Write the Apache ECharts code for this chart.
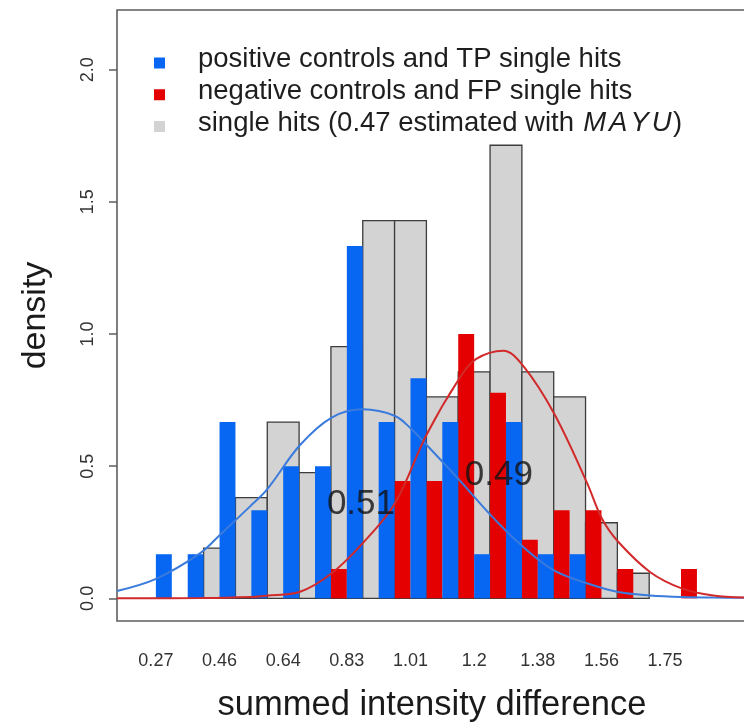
<!DOCTYPE html>
<html>
<head>
<meta charset="utf-8">
<script src="https://cdn.jsdelivr.net/npm/echarts@6/dist/echarts.min.js"></script>
<style>
  html, body { margin: 0; padding: 0; background: #ffffff; }
  #chart { width: 744px; height: 722px; }
</style>
</head>
<body>
<div id="chart"></div>
<script>
// Histogram bins (centre of each bin, summed intensity difference)
const binCenters = [0.27, 0.3625, 0.455, 0.5475, 0.64, 0.7325, 0.825, 0.9175, 1.01,
                    1.1025, 1.195, 1.2875, 1.38, 1.4725, 1.565, 1.6575, 1.75, 1.8425];
const binWidth = 0.0925;

// Densities per bin
const singleHits   = [0, 0, 0.190, 0.381, 0.667, 0.476, 0.952, 1.429, 1.429,
                      0.762, 0.857, 1.714, 0.857, 0.762, 0.286, 0.095, 0, 0];
const positiveHits = [0.167, 0.167, 0.667, 0.333, 0.500, 0.500, 1.333, 0.667, 0.833,
                      0.667, 0.167, 0.667, 0.167, 0.167, 0, 0, 0, 0];
const negativeHits = [0, 0, 0, 0, 0, 0, 0.111, 0, 0.444,
                      0.444, 1.000, 0.778, 0.222, 0.333, 0.333, 0.111, 0, 0.111];

// Fitted component densities
const positiveCurveX = [0.157, 0.272, 0.398, 0.456, 0.543, 0.592, 0.689, 0.781, 0.872, 0.965, 1.013,
                        1.057, 1.151, 1.243, 1.337, 1.427, 1.523, 1.613, 1.706, 1.800, 1.890, 1.988];
const positiveCurveY = [0.028, 0.075, 0.170, 0.240, 0.347, 0.410, 0.580, 0.684, 0.715, 0.690, 0.640,
                        0.580, 0.449, 0.315, 0.195, 0.106, 0.057, 0.024, 0.011, 0.005, 0.003, 0.002];
const negativeCurveX = [0.157, 0.400, 0.543, 0.592, 0.689, 0.781, 0.872, 0.965, 1.057, 1.151, 1.200,
                        1.280, 1.337, 1.427, 1.523, 1.567, 1.613, 1.706, 1.798, 1.890, 1.988];
const negativeCurveY = [0.000, 0.001, 0.005, 0.010, 0.025, 0.095, 0.210, 0.360, 0.620, 0.830, 0.905,
                        0.937, 0.880, 0.700, 0.437, 0.300, 0.215, 0.100, 0.038, 0.011, 0.003];

// Axis ticks
const xTickValues = [0.27, 0.455, 0.64, 0.825, 1.01, 1.195, 1.38, 1.565, 1.75];
const xTickLabels = ['0.27', '0.46', '0.64', '0.83', '1.01', '1.2', '1.38', '1.56', '1.75'];
const yTickValues = [0, 0.5, 1, 1.5, 2];
const yTickLabels = ['0.0', '0.5', '1.0', '1.5', '2.0'];

// Component proportions
const proportionLabels = ['0.51', '0.49'];
const proportionX = [0.866, 1.267];
const proportionY = [0.357, 0.467];

// Legend entries
const legendLabels = [
  'positive controls and TP single hits',
  'negative controls and FP single hits',
  'single hits (0.47 estimated with MAYU)'
];

const FONT = '"Liberation Sans", Arial, Helvetica, sans-serif';
const BLUE = '#0766f2';
const RED = '#e40000';
const GREY = '#d3d3d3';

function lookup(values, labels, v) {
  const i = values.findIndex(t => Math.abs(t - v) < 1e-6);
  return i >= 0 ? labels[i] : '';
}

// [left edge, right edge, height] rectangles for each bar
function barData(values, side) {
  const half = binWidth / 2;
  const out = [];
  values.forEach((v, i) => {
    if (v <= 0) return;
    const c = binCenters[i];
    if (side === 'full') out.push([c - half, c + half, v]);
    else if (side === 'left') out.push([c - half, c, v]);
    else out.push([c, c + half, v]);
  });
  return out;
}

function rectRenderer(fill, stroke, lineWidth) {
  return function (params, api) {
    const p0 = api.coord([api.value(0), api.value(2)]);
    const p1 = api.coord([api.value(1), 0]);
    return {
      type: 'rect',
      shape: { x: p0[0], y: p0[1], width: p1[0] - p0[0], height: p1[1] - p0[1] },
      style: { fill: fill, stroke: stroke || null, lineWidth: lineWidth || 0 }
    };
  };
}

// Legend: italic, letter-spaced program name inside the third entry
function legendRich(label) {
  const parts = label.split('MAYU');
  if (parts.length < 2) return '{n|' + label + '}';
  const spaced = 'MAYU'.split('').map(ch => '{i|' + ch + '}').join('');
  return '{n|' + parts[0] + '}' + spaced + '{n|' + parts[1] + '}';
}

const legendColors = [BLUE, RED, GREY];
const legendGraphics = [];
legendLabels.forEach((label, i) => {
  const top = 57.5 + i * 31.75;
  legendGraphics.push({
    type: 'rect',
    shape: { x: 154, y: top, width: 11, height: 11 },
    style: { fill: legendColors[i] }
  });
  legendGraphics.push({
    type: 'text',
    x: 198,
    y: top + 2,
    style: {
      text: legendRich(label),
      fill: '#1e1e1e',
      fontSize: 27.5,
      fontFamily: FONT,
      align: 'left',
      verticalAlign: 'middle',
      rich: {
        n: { fontSize: 27.5, fontFamily: FONT, fill: '#1e1e1e' },
        i: { fontSize: 27.5, fontFamily: FONT, fill: '#1e1e1e', fontStyle: 'italic', padding: [0, 1.5] }
      }
    }
  });
});

const chart = echarts.init(document.getElementById('chart'), null, { renderer: 'canvas' });

chart.setOption({
  backgroundColor: '#ffffff',
  animation: false,
  grid: {
    left: 117, top: 10, width: 630, height: 611,
    containLabel: false,
    outerBoundsMode: 'none',
    show: true, borderColor: '#5e5e5e', borderWidth: 1.6, backgroundColor: 'transparent'
  },
  xAxis: {
    type: 'value',
    min: 0.157, max: 1.988,
    name: 'summed intensity difference',
    nameLocation: 'middle',
    nameGap: 67,
    nameTextStyle: { fontSize: 34.5, fontFamily: FONT, color: '#1a1a1a' },
    axisLine: { show: false },
    axisTick: { show: false },
    splitLine: { show: false },
    axisLabel: {
      customValues: xTickValues,
      formatter: v => lookup(xTickValues, xTickLabels, v),
      margin: 31,
      fontSize: 18, fontFamily: FONT, color: '#333333'
    }
  },
  yAxis: {
    type: 'value',
    min: -0.0856, max: 2.2256,
    name: 'density',
    nameLocation: 'middle',
    nameRotate: 90,
    nameGap: 64,
    nameTextStyle: { fontSize: 34, fontFamily: FONT, color: '#1a1a1a' },
    axisLine: { show: false },
    axisTick: {
      show: true, customValues: yTickValues, length: 8,
      lineStyle: { color: '#5e5e5e', width: 1.5 }
    },
    splitLine: { show: false },
    axisLabel: {
      customValues: yTickValues,
      formatter: v => lookup(yTickValues, yTickLabels, v),
      rotate: 90,
      margin: 20,
      fontSize: 18, fontFamily: FONT, color: '#333333'
    }
  },
  graphic: legendGraphics,
  series: [
    {
      name: legendLabels[2], type: 'custom', z: 1,
      renderItem: rectRenderer(GREY, '#3c3c3c', 1.3),
      encode: { x: [0, 1], y: 2 },
      data: barData(singleHits, 'full')
    },
    {
      name: legendLabels[1], type: 'custom', z: 2,
      renderItem: rectRenderer(RED),
      encode: { x: [0, 1], y: 2 },
      data: barData(negativeHits, 'left')
    },
    {
      name: legendLabels[0], type: 'custom', z: 2,
      renderItem: rectRenderer(BLUE),
      encode: { x: [0, 1], y: 2 },
      data: barData(positiveHits, 'right')
    },
    {
      type: 'line', z: 3, smooth: 0.35, symbol: 'none',
      lineStyle: { color: '#3a7bdc', width: 2 },
      data: positiveCurveX.map((x, i) => [x, positiveCurveY[i]])
    },
    {
      type: 'line', z: 3, smooth: 0.35, symbol: 'none',
      lineStyle: { color: '#d22a2a', width: 2 },
      data: negativeCurveX.map((x, i) => [x, negativeCurveY[i]])
    },
    {
      type: 'scatter', z: 5, symbolSize: 0,
      data: proportionX.map((x, i) => ({ value: [x, proportionY[i]], label: { formatter: proportionLabels[i] } })),
      label: {
        show: true, position: 'inside',
        fontSize: 35, fontFamily: FONT, color: '#111111'
      }
    }
  ]
});
</script>
</body>
</html>
